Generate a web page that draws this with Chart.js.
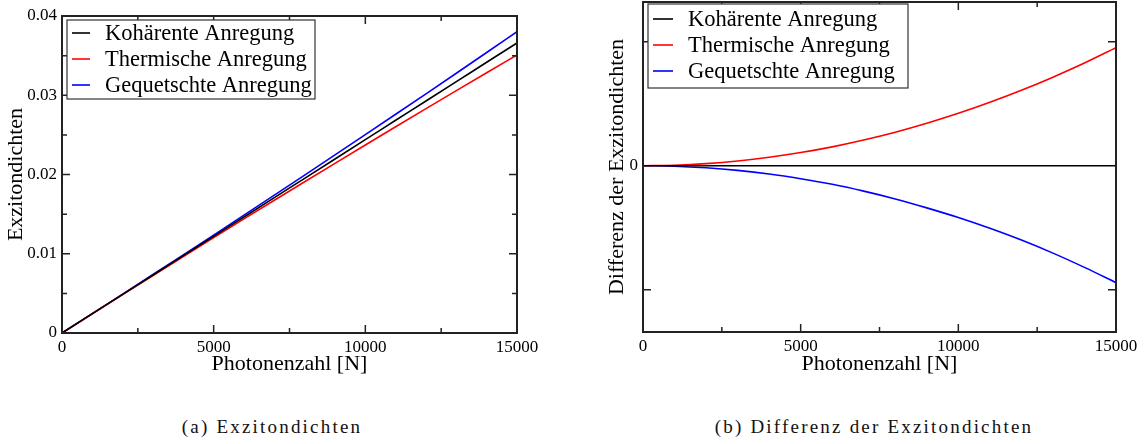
<!DOCTYPE html>
<html>
<head>
<meta charset="utf-8">
<script src="https://cdn.jsdelivr.net/npm/chart.js@4"></script>
<style>
  body { margin: 0; background: #fff; width: 1144px; height: 444px; overflow: hidden; position: relative; }
  .box { position: absolute; top: 0; }
  .caption { position: absolute; top: 416px; font-family: "Liberation Serif", serif; font-size: 19px; letter-spacing: 2.2px; color: #111; white-space: nowrap; transform: translateX(-50%); }
</style>
</head>
<body>
<div class="box" style="left:0px"><canvas id="chartA" width="560" height="380"></canvas></div>
<div class="box" style="left:580px"><canvas id="chartB" width="564" height="380"></canvas></div>
<div class="caption" style="left:272px">(a) Exzitondichten</div>
<div class="caption" style="left:874px">(b) Differenz der Exzitondichten</div>
<script>
// Photonenzahl
var photonen = [0, 1000, 2000, 3000, 4000, 5000, 6000, 7000, 8000, 9000, 10000, 11000, 12000, 13000, 14000, 15000];

// (a) Exzitondichten
var kohaerent = [0, 0.00244, 0.00488, 0.00732, 0.00976, 0.0122, 0.01464, 0.01708, 0.01952, 0.02196, 0.0244, 0.02684, 0.02928, 0.03172, 0.03416, 0.0366];
var thermisch = [0, 0.00243, 0.00485, 0.00726, 0.00965, 0.01203, 0.0144, 0.01675, 0.01909, 0.02141, 0.02372, 0.02602, 0.02831, 0.03058, 0.03284, 0.03508];
var gequetscht = [0, 0.00245, 0.00491, 0.00738, 0.00986, 0.01236, 0.01487, 0.01739, 0.01992, 0.02247, 0.02503, 0.0276, 0.03018, 0.03278, 0.03539, 0.03801];

// (b) Differenz (willkuerliche Einheiten)
var diffKoh = [0, 0, 0, 0, 0, 0, 0, 0, 0, 0, 0, 0, 0, 0, 0, 0];
var diffTherm = [0, 0.004, 0.017, 0.038, 0.068, 0.106, 0.152, 0.207, 0.270, 0.342, 0.422, 0.511, 0.608, 0.714, 0.828, 0.952];
var diffGeq = [0, -0.004, -0.017, -0.038, -0.067, -0.105, -0.150, -0.205, -0.268, -0.340, -0.418, -0.505, -0.600, -0.705, -0.820, -0.943];

var legendNames = ["Kohärente Anregung", "Thermische Anregung", "Gequetschte Anregung"];
var farben = ["#000000", "#ff0000", "#0000ff"];

var xMajor = [0, 5000, 10000, 15000];
var xMinor = [2500, 7500, 12500];
var yMajorA = [0.01, 0.02, 0.03];
var yMinorA = [0.005, 0.015, 0.025, 0.035];
var yTicksB = [-1, 0, 1];

Chart.defaults.font.family = "'Liberation Serif', 'Times New Roman', serif";
Chart.defaults.color = "#000";

function pts(ys) {
  return photonen.map(function (x, i) { return { x: x, y: ys[i] }; });
}

function makeSets(arrs) {
  return arrs.map(function (a, i) {
    return {
      label: legendNames[i],
      data: pts(a),
      borderColor: farben[i],
      borderWidth: 1.6,
      pointRadius: 0,
      fill: false,
      cubicInterpolationMode: "monotone",
    };
  });
}

// frame, inward ticks and boxed legend
var framePlugin = {
  id: "frame",
  afterDraw: function (chart, args, opts) {
    var c = chart.ctx, a = chart.chartArea;
    var xs = chart.scales.x, ys = chart.scales.y;
    c.save();
    c.strokeStyle = "#222";
    c.lineWidth = 1.5;
    function tick(list, len) {
      list.forEach(function (v) {
        var px = xs.getPixelForValue(v);
        c.beginPath();
        c.moveTo(px, a.bottom); c.lineTo(px, a.bottom - len);
        c.moveTo(px, a.top); c.lineTo(px, a.top + len);
        c.stroke();
      });
    }
    function ytick(list, len) {
      list.forEach(function (v) {
        var py = ys.getPixelForValue(v);
        c.beginPath();
        c.moveTo(a.left, py); c.lineTo(a.left + len, py);
        c.moveTo(a.right, py); c.lineTo(a.right - len, py);
        c.stroke();
      });
    }
    tick(opts.xMajor, 8);
    tick(opts.xMinor, 5);
    ytick(opts.yMajor, 8);
    ytick(opts.yMinor, 5);
    c.lineWidth = 2;
    c.strokeRect(a.left, a.top, a.right - a.left, a.bottom - a.top);

    // legend
    var lx = a.left + opts.legX, ly = a.top + opts.legY;
    c.fillStyle = "#fff";
    c.fillRect(lx, ly, opts.legW, opts.legH);
    c.lineWidth = 1.2;
    c.strokeStyle = "#333";
    c.strokeRect(lx, ly, opts.legW, opts.legH);
    c.font = "22.5px 'Liberation Serif', serif";
    c.textBaseline = "middle";
    chart.data.datasets.forEach(function (ds, i) {
      var ry = ly + opts.row0 + i * 26;
      c.strokeStyle = ds.borderColor;
      c.lineWidth = 1.6;
      c.beginPath();
      c.moveTo(lx + 5, ry); c.lineTo(lx + opts.lineLen + 5, ry);
      c.stroke();
      c.fillStyle = "#000";
      c.fillText(ds.label, lx + opts.textX, ry + 1);
    });
    c.restore();
  },
};

function xScale(h) {
  return {
    type: "linear",
    min: 0,
    max: 15000,
    afterBuildTicks: function (s) { s.ticks = xMajor.map(function (v) { return { value: v }; }); },
    afterFit: function (s) { s.height = h; },
    grid: { display: false, drawTicks: false },
    border: { display: false },
    ticks: { font: { size: 17 }, padding: 4, maxRotation: 0, callback: function (v) { return String(v); } },
    title: { display: true, text: "Photonenzahl [N]", font: { size: 22 }, padding: { top: 0, bottom: 3 } },
  };
}

new Chart(document.getElementById("chartA"), {
  type: "line",
  data: { datasets: makeSets([kohaerent, thermisch, gequetscht]) },
  options: {
    responsive: false,
    animation: false,
    layout: { padding: { top: 16, right: 43, left: 0, bottom: 0 } },
    plugins: {
      legend: { display: false },
      tooltip: { enabled: false },
      frame: { xMajor: xMajor, xMinor: xMinor, yMajor: yMajorA, yMinor: yMinorA, legX: 5, legY: 4, legW: 248, legH: 79, row0: 13, lineLen: 18, textX: 38 },
    },
    scales: {
      x: xScale(47),
      y: {
        min: 0,
        max: 0.04,
        afterBuildTicks: function (s) { s.ticks = [0, 0.01, 0.02, 0.03, 0.04].map(function (v) { return { value: v }; }); },
        afterFit: function (s) { s.width = 62; s.paddingTop = 0; s.paddingBottom = 0; },
        grid: { display: false, drawTicks: false },
        border: { display: false },
        ticks: { font: { size: 17 }, padding: 5, callback: function (v) { return String(Math.round(v * 100) / 100); } },
        title: { display: true, text: "Exzitondichten", font: { size: 22 }, padding: { top: 3, bottom: 0 } },
      },
    },
  },
  plugins: [framePlugin],
});

new Chart(document.getElementById("chartB"), {
  type: "line",
  data: { datasets: makeSets([diffKoh, diffTherm, diffGeq]) },
  options: {
    responsive: false,
    animation: false,
    layout: { padding: { top: 2, right: 28, left: 0, bottom: 0 } },
    plugins: {
      legend: { display: false },
      tooltip: { enabled: false },
      frame: { xMajor: xMajor, xMinor: xMinor, yMajor: [-1, 1], yMinor: [], legX: 5, legY: 2, legW: 260, legH: 84, row0: 15, lineLen: 20, textX: 40 },
    },
    scales: {
      x: xScale(48),
      y: {
        min: -1.341,
        max: 1.32,
        afterBuildTicks: function (s) { s.ticks = yTicksB.map(function (v) { return { value: v }; }); },
        afterFit: function (s) { s.width = 63; s.paddingTop = 0; s.paddingBottom = 0; },
        grid: { display: false, drawTicks: false },
        border: { display: false },
        ticks: { font: { size: 17 }, padding: 5, callback: function (v) { return v === 0 ? "0" : ""; } },
        title: { display: true, text: "Differenz der Exzitondichten", font: { size: 22 }, padding: { top: 24, bottom: 0 } },
      },
    },
  },
  plugins: [framePlugin],
});
</script>
</body>
</html>
